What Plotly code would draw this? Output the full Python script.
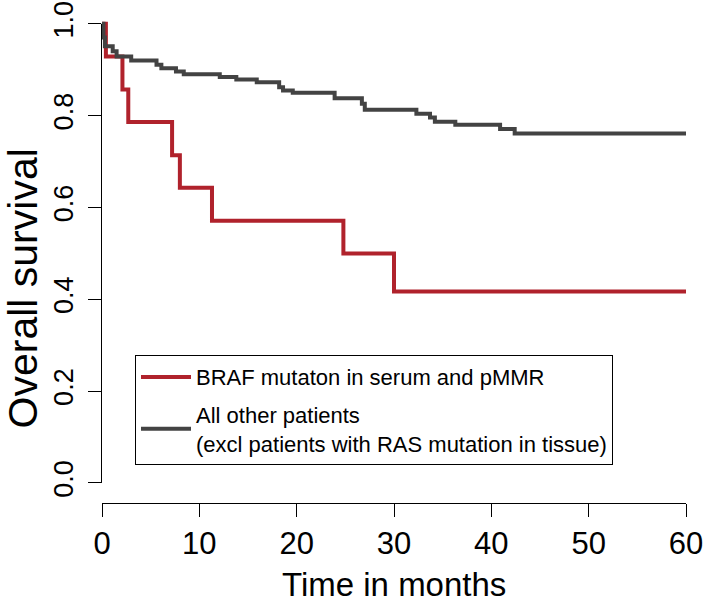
import plotly.graph_objects as go

# Kaplan-Meier step data
braf_t = [0, 0.4, 2.1, 2.7, 7.2, 8.0, 11.3, 24.8, 30.0, 60]
braf_s = [1.0, 0.929, 0.857, 0.786, 0.714, 0.643, 0.571, 0.500, 0.417, 0.417]

other_t = [0, 0.15, 0.3, 1.1, 1.5, 3.0, 5.6, 6.1, 7.6, 8.4, 12.1, 13.8, 15.9,
           18.2, 18.6, 19.6, 23.9, 26.7, 27.0, 32.3, 33.7, 34.2, 36.3, 40.9, 42.4, 60]
other_s = [1.0, 0.97, 0.951, 0.94, 0.929, 0.920, 0.911, 0.903, 0.896, 0.890, 0.884,
           0.879, 0.873, 0.862, 0.855, 0.850, 0.838, 0.826, 0.813, 0.804, 0.796,
           0.787, 0.780, 0.771, 0.761, 0.761]

x_ticks = [0, 10, 20, 30, 40, 50, 60]
y_ticks = [0.0, 0.2, 0.4, 0.6, 0.8, 1.0]
y_tick_labels = ["0.0", "0.2", "0.4", "0.6", "0.8", "1.0"]

name_braf = "BRAF mutaton in serum and pMMR"
name_other = "All other patients<br>(excl patients with RAS mutation in tissue)"

FONT = "Liberation Sans, Arial, Helvetica, sans-serif"

y_range = [-0.0436, 1.041]


def y_frac(v):
    return (v - y_range[0]) / (y_range[1] - y_range[0])


fig = go.Figure()
fig.add_trace(go.Scatter(x=braf_t, y=braf_s, mode="lines", line_shape="hv",
                         line=dict(color="#B0222C", width=4), name=name_braf,
                         legendgroup="a"))
fig.add_trace(go.Scatter(x=other_t, y=other_s, mode="lines", line_shape="hv",
                         line=dict(color="#434343", width=4), name=name_other,
                         legendgroup="b"))

fig.update_layout(
    width=709, height=601,
    margin=dict(l=102, r=23, t=5, b=98, autoexpand=False),
    paper_bgcolor="white", plot_bgcolor="white",
    font=dict(family=FONT, color="black"),
    showlegend=True,
    legend=dict(x=0.0565, y=0.297, xanchor="left", yanchor="top",
                bordercolor="black", borderwidth=1, bgcolor="white",
                font=dict(size=22, family=FONT, color="black"),
                tracegroupgap=6, itemwidth=50),
    xaxis=dict(range=[0, 60], tickvals=x_ticks, ticks="outside", ticklen=13,
               tickwidth=1, tickcolor="black", showline=True, linecolor="black",
               linewidth=1, showgrid=False, zeroline=False, automargin=False,
               ticklabeloverflow="allow",
               tickfont=dict(size=31, family=FONT, color="black")),
    yaxis=dict(range=y_range, tickvals=y_ticks, ticktext=y_tick_labels,
               ticks="outside", ticklen=13, tickwidth=1, tickcolor="black",
               showline=False, showgrid=False, zeroline=False, tickangle=-90,
               automargin=False, ticklabeloverflow="allow", ticklabelstandoff=4,
               tickfont=dict(size=27, family=FONT, color="black")),
    # R-style y axis line spanning only 0..1
    shapes=[dict(type="line", xref="paper", yref="paper", xsizemode="pixel",
                 xanchor=0, x0=-0.5, x1=-0.5, y0=y_frac(y_ticks[0]),
                 y1=y_frac(y_ticks[-1]), layer="below",
                 line=dict(color="black", width=1))],
    annotations=[
        dict(text="Time in months", xref="paper", yref="paper", x=0.5, y=-0.204,
             xanchor="center", yanchor="bottom", showarrow=False,
             font=dict(size=33, family=FONT, color="black")),
        dict(text="Overall survival", xref="paper", yref="paper", x=-0.136, y=0.43,
             xanchor="center", yanchor="middle", textangle=-90, showarrow=False,
             font=dict(size=41, family=FONT, color="black")),
    ],
)

fig.write_html("out.html",
               config={"displayModeBar": False},
               post_script="document.body.style.margin='0';document.body.style.overflow='hidden';")
